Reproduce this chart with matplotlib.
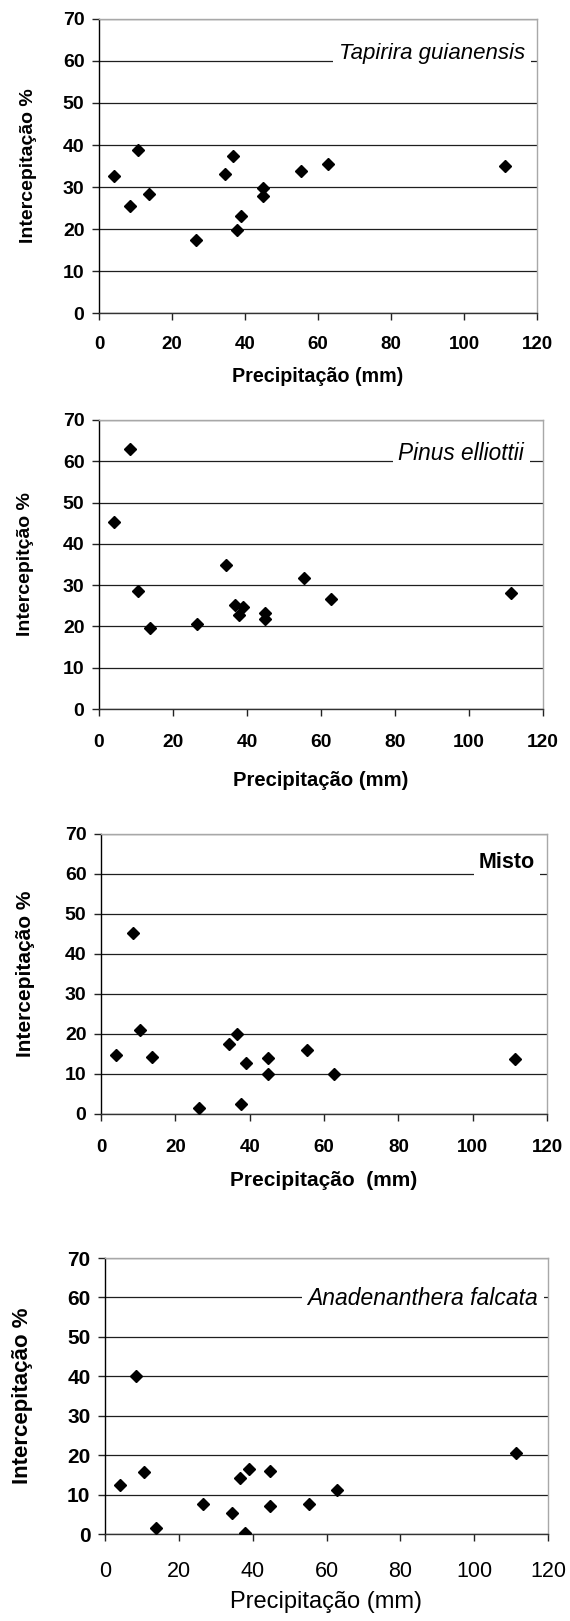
import matplotlib.pyplot as plt

plt.rcParams["font.family"] = ["Liberation Sans", "DejaVu Sans"]

FIG_W, FIG_H = 570, 1621

# precipitation events (mm), the same for all four stands
precipitation = [4.0, 8.5, 10.6, 13.7, 26.5, 34.4, 36.7, 37.8, 39.0,
                 44.8, 44.8, 55.3, 62.8, 111.3]

tapirira = [32.7, 25.4, 38.9, 28.4, 17.3, 33.1, 37.3, 19.8, 23.1,
            29.7, 27.8, 33.7, 35.5, 35.0]
pinus = [45.4, 63.0, 28.6, 19.7, 20.5, 34.8, 25.2, 22.7, 24.6,
         23.2, 21.8, 31.7, 26.7, 28.0]
misto = [14.8, 45.2, 20.9, 14.3, 1.5, 17.4, 19.9, 2.5, 12.8,
         14.1, 10.1, 16.0, 9.9, 13.8]
anadenanthera = [12.5, 40.1, 15.6, 1.5, 7.5, 5.2, 14.3, 0.3, 16.4,
                 16.0, 7.2, 7.7, 11.2, 20.6]

xTicks = [0, 20, 40, 60, 80, 100, 120]
yTicks = [0, 10, 20, 30, 40, 50, 60, 70]


def drawPanel(fig, box, values, label, labelStyle, labelWeight, labelRight,
              labelY, labelSize, yLabel, xLabel, yTickSize, xTickSize,
              yLabelSize, xLabelSize, xWeight, xTickY, xLabelY, yLabelX):
    left, top, right, bottom = box
    ax = fig.add_axes([left / FIG_W, 1 - bottom / FIG_H,
                       (right - left) / FIG_W, (bottom - top) / FIG_H])

    ax.plot(precipitation, values, linestyle="none", marker="D",
            markersize=6.5, color="black", zorder=4)

    ax.set_xlim(0, 120)
    ax.set_ylim(0, 70)
    ax.set_xticks(xTicks)
    ax.set_yticks(yTicks)

    ax.yaxis.grid(True, color="#1e1e1e", linewidth=0.9)
    ax.set_axisbelow(True)

    ax.spines["left"].set_color("black")
    ax.spines["bottom"].set_color("#333333")
    ax.spines["top"].set_color("#a8a8a8")
    ax.spines["right"].set_color("#a8a8a8")
    for side in ax.spines:
        ax.spines[side].set_linewidth(1.0)

    height = bottom - top
    xPad = (xTickY - bottom - 6 - xTickSize * 0.62) * 0.72
    ax.tick_params(axis="both", direction="out", length=5, width=1,
                   color="#222222")
    ax.tick_params(axis="y", pad=5.5, labelsize=yTickSize)
    ax.tick_params(axis="x", pad=xPad, labelsize=xTickSize)
    for t in ax.get_yticklabels():
        t.set_fontweight("bold")
    for t in ax.get_xticklabels():
        t.set_fontweight(xWeight)

    ax.set_xlabel(xLabel, fontsize=xLabelSize, fontweight=xWeight)
    ax.xaxis.label.set_va("center")
    ax.xaxis.set_label_coords(0.5, -(xLabelY - bottom) / height)

    ax.set_ylabel(yLabel, fontsize=yLabelSize, fontweight="bold")
    ax.yaxis.label.set_va("center")
    ax.yaxis.set_label_coords(-(left - yLabelX) / (right - left), 0.5)

    ax.text(labelRight, labelY, label, ha="right", va="baseline",
            fontsize=labelSize, fontstyle=labelStyle, fontweight=labelWeight,
            zorder=5,
            bbox=dict(boxstyle="square,pad=0.25", facecolor="white",
                      edgecolor="none"))
    return ax


fig = plt.figure(figsize=(FIG_W / 100, FIG_H / 100), dpi=100)

drawPanel(fig, (99, 19, 537, 313), tapirira, "Tapirira guianensis",
          "italic", "normal", 116.7, 60.4, 16, "Intercepitação %",
          "Precipitação (mm)", 14, 13.5, 14, 14.2, "bold", 343, 377, 28)

drawPanel(fig, (99, 420, 543, 709), pinus, "Pinus elliottii",
          "italic", "normal", 114.9, 60.4, 16.3, "Intercepitção %",
          "Precipitação (mm)", 14, 13.8, 14, 14.6, "bold", 742, 780, 25)

drawPanel(fig, (101, 834, 547, 1114), misto, "Misto",
          "normal", "bold", 116.8, 61.4, 15.5, "Intercepitação %",
          "Precipitação  (mm)", 14, 13.5, 15, 15, "bold", 1146, 1181, 26)

drawPanel(fig, (105, 1258, 548, 1534), anadenanthera, "Anadenanthera falcata",
          "italic", "normal", 117.3, 58.0, 16.5, "Intercepitação %",
          "Precipitação (mm)", 15, 15.5, 16, 17, "normal", 1570, 1602, 23)

fig.savefig("out.png", dpi=100, facecolor="white")
